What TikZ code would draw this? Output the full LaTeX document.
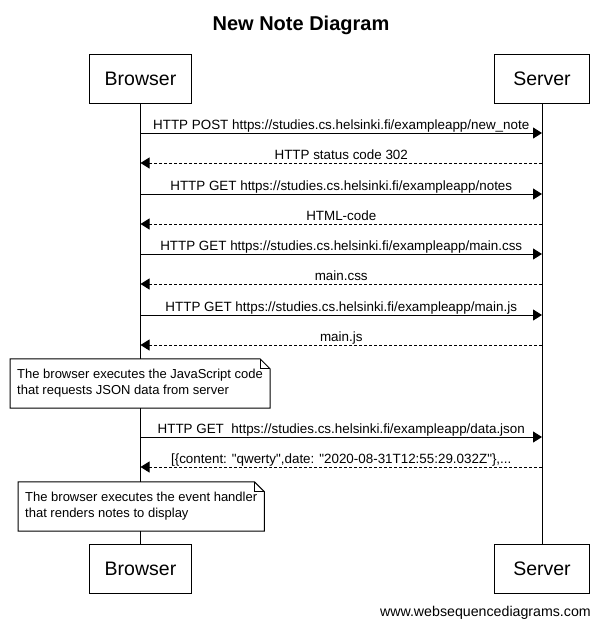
\documentclass[tikz,border=0pt]{standalone}
\usepackage{fontspec}
\setmainfont{Liberation Sans}[Ligatures=TeXOff]
\usetikzlibrary{arrows.meta,calc}
\begin{document}
\begin{tikzpicture}[x=1pt,y=-1pt,
  actor/.style={draw,line width=1pt,minimum width=102pt,minimum height=49pt,inner sep=0pt,font=\fontsize{19.5}{22}\selectfont},
  life/.style={line width=1pt},
  msgline/.style={line width=1pt,-{Triangle[length=9pt,width=11pt]}},
  reply/.style={msgline,dash pattern=on 3pt off 2pt},
  lbl/.style={midway,anchor=base,yshift=4pt,font=\fontsize{13.4}{15}\selectfont,inner sep=0pt},
  notebox/.style={fill=white,anchor=west,inner xsep=7pt,inner ysep=0pt,minimum height=49pt,align=left,font=\fontsize{13}{16}\selectfont},
  noteline/.style={line width=1pt}]
\useasboundingbox (0,0) rectangle (600,627);
\fill[white] (0,0) rectangle (600,627);
\node[font=\bfseries\fontsize{20}{22}\selectfont,anchor=base] (title) at (301,30) {New Note Diagram};
\node[actor] (bt) at (140.5,78.5) {Browser};
\node[actor,minimum width=95pt] (st) at (542,78.5) {Server};
\node[actor] (bb) at (140.5,568.5) {Browser};
\node[actor,minimum width=95pt] (sb) at (542,568.5) {Server};
\draw[life] (bt) -- (bb);
\draw[life] (st) -- (sb);
\foreach \i/\y in {1/133,2/163,3/194,4/224,5/254,6/284,7/315,8/345,9/437,10/467}{
  \coordinate (b\i) at (bt.south |- 0,\y);
  \coordinate (s\i) at (st.south |- 0,\y);
}
\draw[msgline] (b1) -- node[lbl]{HTTP POST https://studies.cs.helsinki.fi/exampleapp/new\_note} (s1);
\draw[reply] (s2) -- node[lbl]{HTTP status code 302} (b2);
\draw[msgline] (b3) -- node[lbl]{HTTP GET https://studies.cs.helsinki.fi/exampleapp/notes} (s3);
\draw[reply] (s4) -- node[lbl]{HTML-code} (b4);
\draw[msgline] (b5) -- node[lbl]{HTTP GET https://studies.cs.helsinki.fi/exampleapp/main.css} (s5);
\draw[reply] (s6) -- node[lbl]{main.css} (b6);
\draw[msgline] (b7) -- node[lbl]{HTTP GET https://studies.cs.helsinki.fi/exampleapp/main.js} (s7);
\draw[reply] (s8) -- node[lbl]{main.js} (b8);
\draw[msgline] (b9) -- node[lbl]{HTTP GET\ \ https://studies.cs.helsinki.fi/exampleapp/data.json} (s9);
\draw[reply] (s10) -- node[lbl]{[\{content: "qwerty",date: "2020-08-31T12:55:29.032Z"\},...} (b10);
\node[notebox] (n1) at (10,383.5) {The browser executes the JavaScript code\\that requests JSON data from server};
\draw[noteline] (n1.north west) -- ([xshift=-10pt]n1.north east) -- ([yshift=-10pt]n1.north east) -- (n1.south east) -- (n1.south west) -- cycle;
\draw[noteline] ([xshift=-10pt]n1.north east) -- ([xshift=-10pt,yshift=-10pt]n1.north east) -- ([yshift=-10pt]n1.north east);
\node[notebox] (n2) at (18,506.5) {The browser executes the event handler\\that renders notes to display};
\draw[noteline] (n2.north west) -- ([xshift=-10pt]n2.north east) -- ([yshift=-10pt]n2.north east) -- (n2.south east) -- (n2.south west) -- cycle;
\draw[noteline] ([xshift=-10pt]n2.north east) -- ([xshift=-10pt,yshift=-10pt]n2.north east) -- ([yshift=-10pt]n2.north east);
\node[anchor=base east,font=\fontsize{14.2}{16}\selectfont,inner sep=0pt] (foot) at (591,616) {www.websequencediagrams.com};
\end{tikzpicture}
\end{document}
